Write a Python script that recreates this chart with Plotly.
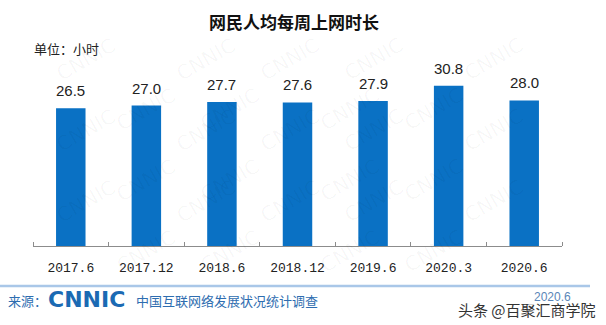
import plotly.graph_objects as go

categories = ["2017.6", "2017.12", "2018.6", "2018.12", "2019.6", "2020.3", "2020.6"]
hours = [26.5, 27.0, 27.7, 27.6, 27.9, 30.8, 28.0]

title_text = "网民人均每周上网时长"
unit_text = "单位：小时"
source_label = "来源："
source_logo = "CNNIC"
source_name = "中国互联网络发展状况统计调查"
date_text = "2020.6"
credit_text = "头条 @百聚汇商学院"

BAR_COLOR = "#0A71C4"
CJK = "Noto Sans CJK SC"

fig = go.Figure()
fig.add_trace(go.Bar(
    x=list(range(len(categories))), y=hours,
    marker=dict(color=BAR_COLOR, line=dict(width=0)),
    hoverinfo="skip",
))

annotations = []
# faint CNNIC watermarks (only those fully inside the canvas)
for row in range(0, 6):
    for col in range(0, 5):
        px = col * 120 + (row % 2) * 60 + 50
        py = row * 50 + 30
        if px < 40 or px > 566 or py < 25 or py > 285:
            continue
        annotations.append(dict(
            xref="paper", yref="paper",
            x=(px - 33) / 529, y=(246 - py) / 182,
            text="CNNIC", showarrow=False, textangle=-30,
            font=dict(family="DejaVu Sans", size=20, color="rgba(0,0,0,0.035)"),
        ))

for i, v in enumerate(hours):
    annotations.append(dict(
        x=i, y=v, xref="x", yref="y", text=f"{v:.1f}", showarrow=False,
        yanchor="bottom", yshift=7,
        font=dict(family="Liberation Sans", size=15, color="#222222"),
    ))

def pix(x, y, text, size, color, family=CJK, xanchor="left", yanchor="middle"):
    annotations.append(dict(
        xref="paper", yref="paper",
        x=(x - 33) / 529, y=(246 - y) / 182,
        text=text, showarrow=False, xanchor=xanchor, yanchor=yanchor,
        font=dict(family=family, size=size, color=color),
    ))

pix(294, 22, f"<b>{title_text}</b>", 17, "#111111", xanchor="center")
pix(32, 48, unit_text, 13, "#222222")
pix(6, 300, source_label, 13, "#2E6DB0")
pix(46, 299, f"<b>{source_logo}</b>", 22, "#1B6AB3", family="DejaVu Sans")
pix(134, 300, source_name, 13, "#2E6DB0")
pix(532, 297, date_text, 12, "#5A86B8", family="Liberation Sans")
pix(456, 309, credit_text, 15, "#333333")

fig.update_layout(
    width=606, height=325,
    margin=dict(l=33, r=44, t=64, b=79),
    paper_bgcolor="white", plot_bgcolor="white",
    showlegend=False,
    bargap=0.61,
    annotations=annotations,
    shapes=[dict(
        type="line", xref="paper", yref="paper",
        x0=(0 - 33) / 529, x1=(590 - 33) / 529,
        y0=(246 - 286) / 182, y1=(246 - 286) / 182,
        line=dict(color="#A9C7E8", width=2.5),
    )],
    xaxis=dict(
        range=[-0.5, len(categories) - 0.5],
        tickmode="array", tickvals=list(range(len(categories))), ticktext=categories,
        showgrid=False, zeroline=False,
        showline=True, linecolor="#8C8C8C", linewidth=1,
        ticks="",
        tickfont=dict(family="Liberation Mono", size=13, color="#222222"),
        ticklabelstandoff=9,
        minor=dict(tickmode="array", tickvals=[i - 0.5 for i in range(len(categories) + 1)],
                   ticks="inside", ticklen=4, tickcolor="#8C8C8C", showgrid=False),
    ),
    yaxis=dict(range=[0, 35], visible=False, showgrid=False, zeroline=False),
)

fig.write_html("out.html")
